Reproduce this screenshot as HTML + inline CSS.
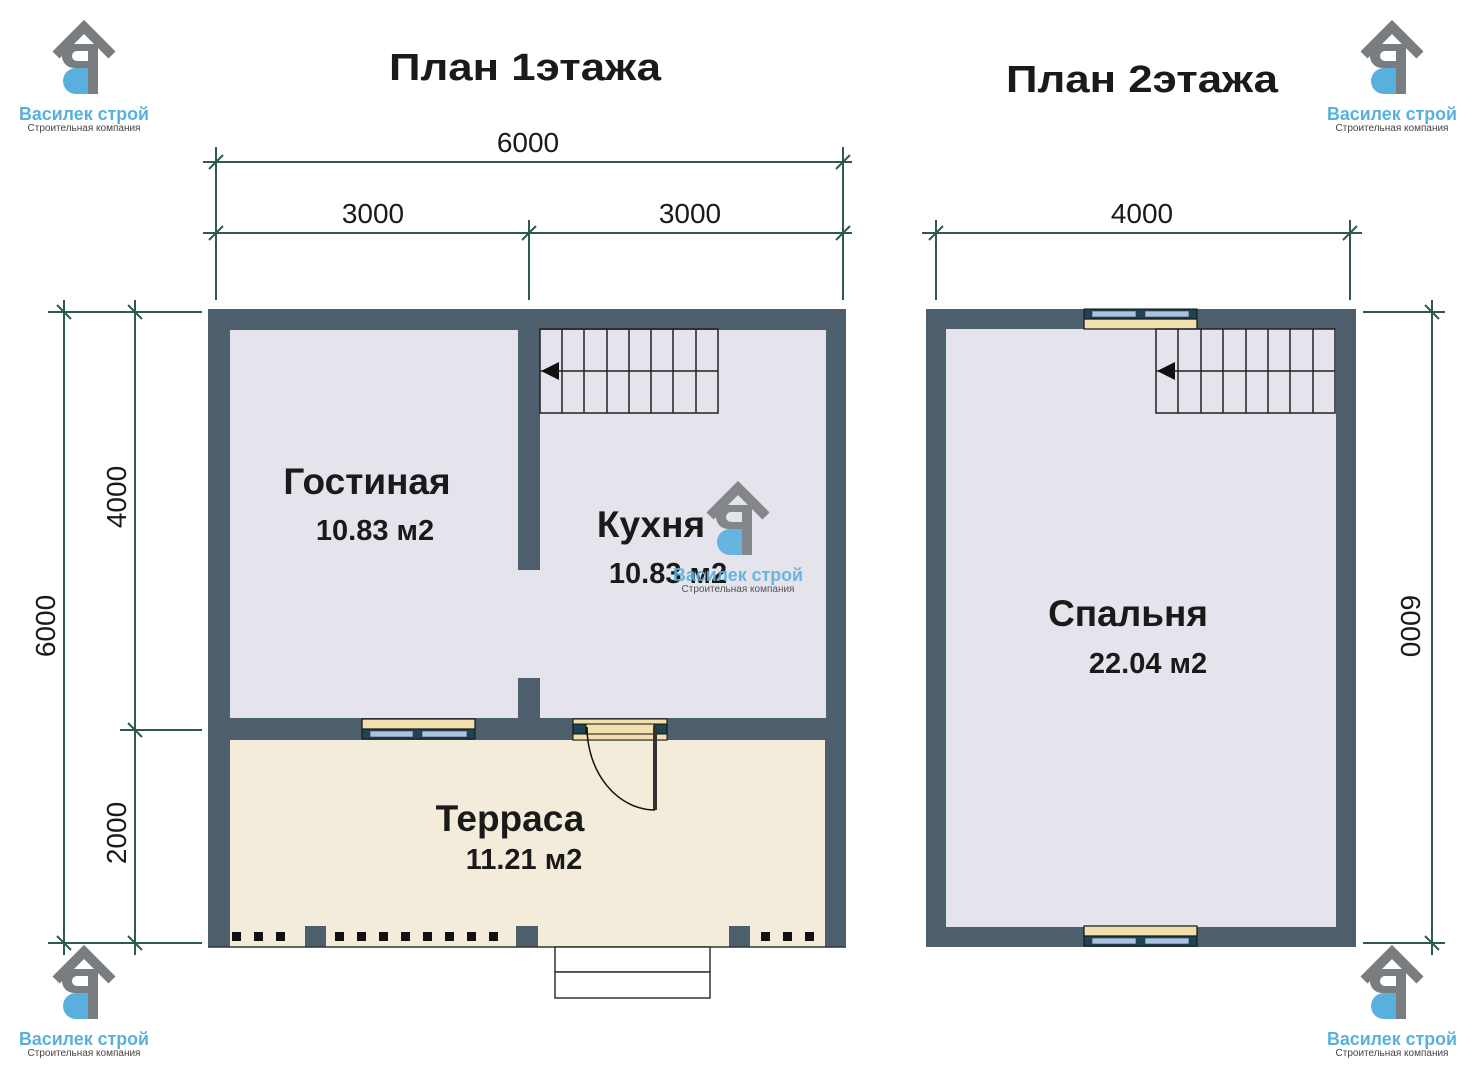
<!DOCTYPE html>
<html><head><meta charset="utf-8"><style>
html,body{margin:0;padding:0;background:#fff;}
svg{display:block;}
text{font-family:"Liberation Sans","DejaVu Sans",sans-serif;}
</style></head><body>
<svg width="1479" height="1080" viewBox="0 0 1479 1080" xmlns="http://www.w3.org/2000/svg">
<defs>
<g id="logo">
  <polyline points="36,38 64,10 92,38" fill="none" stroke="#7a7d80" stroke-width="10"/>
  <rect x="68" y="27" width="10" height="50" fill="#7a7d80"/>
  <path d="M68,27 H54 A12,12 0 0 0 54,51 H68 V44 H57 A5,5 0 0 1 57,34 H68 Z" fill="#7a7d80"/>
  <path d="M68,51 H56 A13,13 0 0 0 56,77 H68 Z" fill="#5ab0dd"/>
  <text x="64" y="103" text-anchor="middle" font-size="18" font-weight="bold" fill="#5ab0dd" textLength="130" lengthAdjust="spacingAndGlyphs">Василек строй</text>
  <text x="64" y="114" text-anchor="middle" font-size="10" fill="#444">Строительная компания</text>
</g>
</defs>

<use href="#logo" x="20" y="17"/>
<use href="#logo" x="1328" y="17"/>
<use href="#logo" x="20" y="942"/>
<use href="#logo" x="1328" y="942"/>

<text x="525" y="80" text-anchor="middle" font-size="38" font-weight="bold" fill="#1a1a1a" textLength="272" lengthAdjust="spacingAndGlyphs">План 1этажа</text>
<text x="1142" y="92" text-anchor="middle" font-size="38" font-weight="bold" fill="#1a1a1a" textLength="272" lengthAdjust="spacingAndGlyphs">План 2этажа</text>

<g stroke="#2e5a4e" stroke-width="2" fill="none">
  <line x1="203" y1="162" x2="852" y2="162"/>
  <line x1="203" y1="233" x2="852" y2="233"/>
  <line x1="216" y1="147" x2="216" y2="300"/>
  <line x1="529" y1="220" x2="529" y2="300"/>
  <line x1="843" y1="147" x2="843" y2="300"/>
  <line x1="922" y1="233" x2="1362" y2="233"/>
  <line x1="936" y1="220" x2="936" y2="300"/>
  <line x1="1350" y1="220" x2="1350" y2="300"/>
  <line x1="48" y1="312" x2="202" y2="312"/>
  <line x1="120" y1="730" x2="202" y2="730"/>
  <line x1="48" y1="943" x2="202" y2="943"/>
  <line x1="64" y1="300" x2="64" y2="955"/>
  <line x1="135" y1="300" x2="135" y2="955"/>
  <line x1="1363" y1="312" x2="1445" y2="312"/>
  <line x1="1363" y1="943" x2="1445" y2="943"/>
  <line x1="1432" y1="300" x2="1432" y2="955"/>
  <path d="M209,169 L223,155 M209,240 L223,226 M522,240 L536,226 M836,169 L850,155 M836,240 L850,226 M929,240 L943,226 M1343,240 L1357,226"/>
  <path d="M57,305 L71,319 M128,305 L142,319 M128,723 L142,737 M57,936 L71,950 M128,936 L142,950 M1425,305 L1439,319 M1425,936 L1439,950"/>
</g>
<g font-size="28" fill="#1a1a1a" text-anchor="middle">
  <text x="528" y="152">6000</text>
  <text x="373" y="223">3000</text>
  <text x="690" y="223">3000</text>
  <text x="1142" y="223">4000</text>
  <text transform="translate(55,626) rotate(-90)">6000</text>
  <text transform="translate(126,497) rotate(-90)">4000</text>
  <text transform="translate(126,833) rotate(-90)">2000</text>
  <text transform="translate(1401,626) rotate(90)">6000</text>
</g>

<rect x="208" y="309" width="638" height="431" fill="#4d5f6d"/>
<rect x="230" y="330" width="288" height="388" fill="#e5e4ec"/>
<rect x="540" y="330" width="286" height="388" fill="#e5e4ec"/>
<rect x="516" y="570" width="26" height="108" fill="#e5e4ec"/>
<rect x="208" y="740" width="638" height="207" fill="#f3ecda"/>
<rect x="208" y="740" width="22" height="207" fill="#4d5f6d"/>
<rect x="825" y="740" width="21" height="207" fill="#4d5f6d"/>
<rect x="305" y="926" width="21" height="21" fill="#4d5f6d"/>
<rect x="516" y="926" width="22" height="21" fill="#4d5f6d"/>
<rect x="729" y="926" width="21" height="21" fill="#4d5f6d"/>
<line x1="208" y1="947" x2="846" y2="947" stroke="#333" stroke-width="1.5"/>
<g fill="#111">
  <rect x="232" y="932" width="9" height="9"/><rect x="254" y="932" width="9" height="9"/><rect x="276" y="932" width="9" height="9"/>
  <rect x="335" y="932" width="9" height="9"/><rect x="357" y="932" width="9" height="9"/><rect x="379" y="932" width="9" height="9"/><rect x="401" y="932" width="9" height="9"/><rect x="423" y="932" width="9" height="9"/><rect x="445" y="932" width="9" height="9"/><rect x="467" y="932" width="9" height="9"/><rect x="489" y="932" width="9" height="9"/>
  <rect x="761" y="932" width="9" height="9"/><rect x="783" y="932" width="9" height="9"/><rect x="805" y="932" width="9" height="9"/>
</g>
<g fill="#fff" stroke="#333" stroke-width="1.5">
  <rect x="555" y="947" width="155" height="25"/>
  <rect x="555" y="972" width="155" height="26"/>
</g>
<rect x="362" y="719" width="113" height="10" fill="#f2dfae" stroke="#111" stroke-width="1.2"/>
<rect x="362" y="729" width="113" height="10" fill="#1c4552" stroke="#111" stroke-width="1"/>
<rect x="370" y="731" width="43" height="6" fill="#a9c3e0" stroke="#335" stroke-width="0.6"/>
<rect x="422" y="731" width="45" height="6" fill="#a9c3e0" stroke="#335" stroke-width="0.6"/>
<rect x="573" y="719" width="94" height="21" fill="#1c4552" stroke="#111" stroke-width="1.2"/>
<rect x="573" y="719" width="94" height="5" fill="#f2dfae" stroke="#111" stroke-width="1"/>
<rect x="586" y="724" width="68" height="10" fill="#f2dfae" stroke="#111" stroke-width="1"/>
<rect x="573" y="734" width="94" height="6" fill="#f2dfae" stroke="#111" stroke-width="1"/>
<rect x="653" y="726" width="4" height="84" fill="#333"/>
<path d="M587,727 A68,83 0 0 0 655,810" fill="none" stroke="#111" stroke-width="1.5"/>
<g stroke="#222" stroke-width="1.5" fill="none">
  <rect x="540" y="329" width="178" height="84"/>
  <line x1="540" y1="371" x2="718" y2="371"/>
  <path d="M562,329V413M584,329V413M607,329V413M629,329V413M651,329V413M673,329V413M696,329V413"/>
</g>
<polygon points="541,371 559,362 559,380" fill="#111"/>

<g fill="#1a1a1a" font-weight="bold" text-anchor="middle">
  <text x="367" y="494" font-size="37">Гостиная</text>
  <text x="375" y="540" font-size="29">10.83 м2</text>
  <text x="651" y="537" font-size="37">Кухня</text>
  <text x="668" y="583" font-size="29">10.83 м2</text>
  <text x="510" y="831" font-size="37">Терраса</text>
  <text x="524" y="869" font-size="29">11.21 м2</text>
</g>
<use href="#logo" x="674" y="478" opacity="0.9"/>

<rect x="926" y="309" width="430" height="638" fill="#4d5f6d"/>
<rect x="946" y="329" width="390" height="598" fill="#e5e4ec"/>
<rect x="1084" y="309" width="113" height="10" fill="#1c4552" stroke="#111" stroke-width="1"/>
<rect x="1092" y="311" width="44" height="6" fill="#a9c3e0" stroke="#335" stroke-width="0.6"/>
<rect x="1145" y="311" width="44" height="6" fill="#a9c3e0" stroke="#335" stroke-width="0.6"/>
<rect x="1084" y="319" width="113" height="10" fill="#f2dfae" stroke="#111" stroke-width="1.2"/>
<rect x="1084" y="926" width="113" height="10" fill="#f2dfae" stroke="#111" stroke-width="1.2"/>
<rect x="1084" y="936" width="113" height="10" fill="#1c4552" stroke="#111" stroke-width="1"/>
<rect x="1092" y="938" width="44" height="6" fill="#a9c3e0" stroke="#335" stroke-width="0.6"/>
<rect x="1145" y="938" width="44" height="6" fill="#a9c3e0" stroke="#335" stroke-width="0.6"/>
<g stroke="#222" stroke-width="1.5" fill="none">
  <rect x="1156" y="329" width="179" height="84"/>
  <line x1="1156" y1="371" x2="1335" y2="371"/>
  <path d="M1178,329V413M1201,329V413M1223,329V413M1246,329V413M1268,329V413M1290,329V413M1313,329V413"/>
</g>
<polygon points="1157,371 1175,362 1175,380" fill="#111"/>
<g fill="#1a1a1a" font-weight="bold" text-anchor="middle">
  <text x="1128" y="626" font-size="37">Спальня</text>
  <text x="1148" y="673" font-size="29">22.04 м2</text>
</g>
</svg>
</body></html>
